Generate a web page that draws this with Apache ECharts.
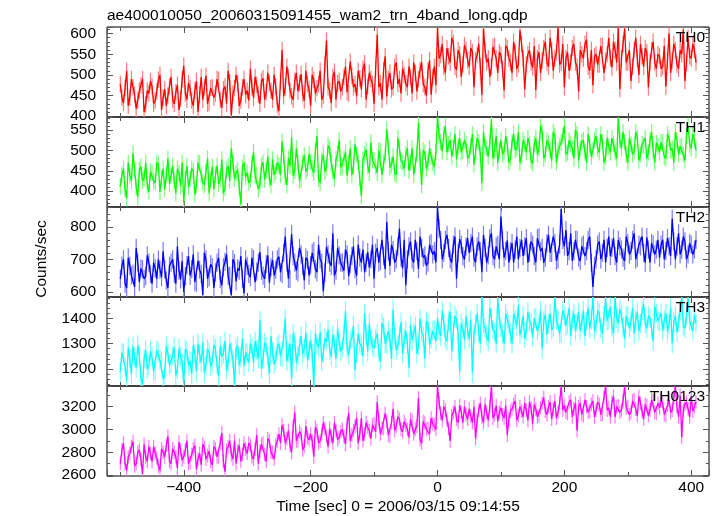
<!DOCTYPE html>
<html><head><meta charset="utf-8">
<script src="https://cdn.jsdelivr.net/npm/echarts@6/dist/echarts.min.js"></script>
<style>html,body{margin:0;padding:0;background:#fff}#c{width:717px;height:516px}</style>
</head><body><div id="c"></div>
<script>
const chartTitle = 'ae400010050_20060315091455_wam2_trn_4band_long.qdp';
const xTitle = 'Time [sec] 0 = 2006/03/15 09:14:55';
const yTitle = 'Counts/sec';
const bandNames = ['TH0', 'TH1', 'TH2', 'TH3', 'TH0123'];
// time bins: "a" arrays at t = -500, -495, ... ; "b" arrays at t = -497.5, -492.5, ...
const tStart = -500, tStep = 5;

const th0a = [
478,432,510,445,470,418,462,490,428,455,
472,438,488,415,465,450,495,430,476,442,
522,440,468,425,485,452,440,498,432,470,
455,488,420,472,510,402,468,480,438,490,
462,515,445,476,430,492,458,480,440,472,
412,560,470,495,448,485,460,502,438,478,
425,488,468,510,450,583,462,495,440,485,
470,520,455,498,478,510,465,528,472,490,
430,598,480,512,448,505,470,530,490,515,
480,520,455,505,490,530,470,510,452,520,
615,548,520,565,530,578,512,550,525,560,
520,555,535,575,452,560,540,520,570,505,
548,462,565,530,580,515,608,540,525,560,
518,463,555,535,580,520,560,540,615,530,
470,555,530,575,520,560,540,585,510,475,
550,525,570,535,590,518,560,615,540,612,
530,485,560,540,575,520,555,530,580,515,
545,520,472,600,535,560,515,550,485,590,
540,560];
const th0b = [
445,468,425,490,452,438,475,410,462,485,
430,460,500,445,425,472,440,458,415,490,
455,480,438,462,410,495,470,430,468,445,
490,440,465,430,482,455,500,425,470,452,
438,470,495,452,485,440,505,462,500,428,
485,448,520,462,440,505,480,455,510,466,
500,455,478,440,525,470,432,508,480,460,
495,458,532,470,448,492,515,440,505,478,
515,470,440,545,490,465,520,478,455,500,
470,495,530,460,512,478,450,535,495,475,
540,575,505,545,590,520,560,495,572,535,
565,470,548,520,612,530,495,568,540,555,
515,570,540,505,555,525,575,465,550,530,
570,540,505,565,530,590,510,555,525,575,
540,510,565,530,460,550,575,520,560,545,
525,570,505,550,540,580,530,465,575,530,
560,520,590,500,545,565,470,560,530,550,
515,570,535,505,575,525,560,610,530,545,
575,530];

const th1a = [
412,455,383,440,493,410,452,425,470,398,
445,420,465,432,405,480,438,425,455,412,
372,462,430,450,415,468,422,448,395,460,
440,418,478,408,462,505,430,452,368,470,
445,428,495,440,415,470,452,430,478,448,
462,522,435,480,532,450,470,428,488,455,
472,445,535,420,490,460,505,448,478,525,
460,495,470,440,515,472,388,490,462,520,
475,445,498,470,552,458,485,440,505,470,
490,450,505,465,568,415,495,470,485,460,
582,520,540,495,525,505,478,530,498,515,
488,540,495,520,420,510,485,575,500,470,
525,498,515,480,540,505,470,525,495,515,
468,530,505,545,490,518,475,535,500,520,
560,495,515,480,540,505,525,470,515,500,
535,495,520,485,510,530,495,580,505,520,
470,515,498,530,490,512,480,525,500,518,
495,520,480,530,505,545,490,510,475,560,
505,525];
const th1b = [
440,405,470,425,452,385,460,432,415,448,
425,470,398,455,440,418,462,395,445,470,
430,410,455,392,470,440,415,480,428,405,
462,430,395,452,425,470,445,410,458,435,
420,468,438,405,462,428,485,415,440,470,
440,485,415,462,438,505,425,470,448,490,
455,498,430,475,448,512,468,430,492,458,
480,438,505,460,490,430,478,502,445,475,
460,500,440,485,510,465,445,530,475,455,
505,470,440,492,478,500,455,505,470,495,
535,498,560,515,485,540,510,495,525,480,
510,465,530,490,545,505,520,480,535,500,
490,535,470,520,500,545,485,515,530,475,
515,490,560,480,525,500,545,470,510,535,
490,525,505,550,475,520,495,540,485,525,
505,540,470,530,495,515,480,525,545,490,
530,490,545,475,515,530,495,545,470,510,
520,485,540,500,470,525,510,490,535,515,
540,500];

const th2a = [
640,700,612,680,655,735,630,670,648,690,
625,672,700,645,668,612,690,655,740,638,
600,682,650,715,628,668,590,700,645,675,
660,705,620,692,648,590,688,672,710,595,
680,645,700,662,722,650,685,628,698,668,
708,655,770,640,778,690,660,715,635,698,
682,725,660,700,602,738,690,780,665,712,
690,730,648,710,670,745,690,660,722,700,
640,735,695,710,815,680,728,700,795,672,
620,740,700,760,670,735,712,690,750,725,
860,760,720,775,700,745,640,762,710,740,
720,770,690,755,660,735,712,780,700,745,
832,705,758,725,690,770,735,710,765,720,
745,690,768,735,705,775,720,750,700,855,
740,710,780,725,760,695,745,725,770,615,
700,755,720,690,770,735,710,760,730,695,
750,725,780,705,740,720,768,690,745,730,
705,760,725,740,825,700,780,730,755,715,
745,730];
const th2b = [
680,625,705,650,615,690,672,640,712,655,
690,640,668,725,635,680,700,625,665,695,
648,710,670,630,695,655,720,640,685,612,
690,640,675,715,650,700,632,665,640,700,
655,705,630,690,665,640,712,675,650,700,
660,720,690,640,710,665,735,680,705,650,
720,670,745,690,660,715,680,650,735,690,
665,715,685,740,650,705,730,690,675,745,
720,690,760,670,725,745,690,740,705,760,
700,755,690,725,770,705,680,745,715,690,
795,700,760,735,690,770,720,745,700,765,
750,705,740,725,775,690,765,710,740,700,
760,725,690,750,730,700,760,740,690,755,
710,765,725,690,750,720,770,695,745,760,
790,725,695,760,705,740,710,760,690,680,
745,700,760,735,710,765,690,740,705,770,
715,760,700,745,770,690,730,750,715,760,
745,700,765,710,755,740,715,770,700,750,
715,760];

const th3a = [
1190,1262,1155,1240,1290,1205,1250,1138,1275,1215,
1248,1195,1268,1230,1178,1262,1222,1285,1200,1250,
1145,1270,1232,1295,1190,1258,1305,1215,1265,1228,
1280,1172,1250,1310,1225,1270,1138,1292,1245,1212,
1262,1300,1225,1275,1392,1240,1288,1180,1268,1235,
1300,1248,1400,1265,1162,1310,1255,1330,1280,1235,
1315,1130,1298,1345,1262,1308,1275,1335,1240,1302,
1285,1430,1255,1320,1195,1340,1290,1420,1268,1318,
1282,1340,1230,1365,1295,1320,1435,1275,1330,1260,
1350,1205,1315,1370,1290,1345,1240,1380,1320,1355,
1400,1330,1380,1310,1425,1350,1395,1190,1360,1410,
1320,1185,1375,1340,1484,1360,1310,1400,1345,1480,
1362,1300,1395,1340,1420,1370,1335,1410,1350,1388,
1325,1405,1370,1280,1415,1380,1355,1480,1395,1340,
1410,1375,1330,1420,1385,1350,1430,1390,1360,1484,
1375,1420,1340,1480,1395,1365,1484,1380,1415,1320,
1410,1385,1340,1425,1380,1455,1360,1400,1310,1420,
1385,1350,1420,1375,1300,1410,1384,1484,1360,1480,
1390,1415];
const th3b = [
1265,1210,1285,1180,1245,1295,1168,1240,1200,1270,
1190,1275,1235,1160,1290,1215,1252,1175,1280,1225,
1278,1212,1180,1260,1300,1225,1185,1280,1210,1295,
1215,1290,1260,1195,1300,1240,1280,1215,1320,1265,
1225,1280,1310,1240,1200,1305,1250,1330,1220,1290,
1250,1320,1230,1300,1340,1225,1290,1260,1345,1270,
1260,1340,1285,1230,1320,1355,1250,1300,1360,1270,
1340,1280,1310,1370,1265,1300,1250,1335,1380,1290,
1320,1265,1380,1300,1350,1240,1330,1295,1385,1320,
1300,1375,1340,1260,1400,1330,1390,1295,1350,1310,
1350,1430,1320,1390,1270,1410,1340,1380,1315,1350,
1395,1340,1420,1300,1380,1330,1440,1355,1300,1395,
1340,1420,1375,1300,1395,1450,1360,1320,1425,1380,
1400,1350,1430,1390,1335,1420,1365,1395,1340,1430,
1370,1440,1395,1350,1425,1380,1330,1440,1395,1350,
1430,1360,1410,1390,1445,1340,1400,1435,1365,1410,
1360,1440,1395,1350,1430,1380,1410,1360,1445,1390,
1420,1395,1350,1440,1385,1345,1430,1370,1410,1390,
1350,1380];

const th0123a = [
2700,2880,2640,2790,2895,2700,2820,2610,2760,2850,
2720,2790,2680,2830,2760,2940,2700,2800,2660,2820,
2760,2900,2710,2830,2650,2790,2870,2740,2810,2690,
2830,2760,2970,2630,2850,2780,2900,2810,2720,2880,
2790,2860,2740,2950,2810,2880,2720,2900,2800,2860,
2960,3040,2880,2990,2800,3150,2900,2960,2850,2930,
2960,2760,2990,2900,3060,2940,3010,2880,2990,2930,
3000,2870,3145,2950,3030,2880,3100,2960,3020,2920,
3050,3240,2960,3010,3070,2940,3180,3030,3090,2980,
3040,2930,3080,3000,3275,2880,3060,3010,3100,3040,
3380,3140,3200,3080,2900,3150,3090,3210,3060,3130,
3180,3060,2920,3170,3110,3220,3080,3380,3130,3070,
3190,3100,2950,3160,3220,3080,3200,3110,3170,3240,
3050,3180,3120,3230,3160,3200,3090,3250,3150,3380,
3210,3140,3260,3180,2990,3230,3120,3200,3160,3250,
3170,3220,3130,3380,3190,3240,3110,3210,3170,3380,
3200,3150,3260,3120,3230,3090,3210,3170,3250,3140,
3190,3230,3120,3260,3170,3380,3110,2930,3220,3180,
3290,3200];
const th0123b = [
2820,2700,2760,2850,2680,2800,2740,2870,2720,2790,
2850,2750,2640,2800,2860,2720,2830,2760,2890,2730,
2820,2700,2780,2860,2740,2690,2840,2770,2720,2850,
2760,2880,2720,2820,2900,2740,2700,2860,2780,2830,
2880,2760,2830,2700,2870,2780,2920,2800,2740,2900,
2880,2990,2920,2860,3020,2900,2980,2820,3030,2910,
2900,3020,2880,2960,3010,2850,2940,3060,2910,2980,
2940,3050,2900,2990,3100,2960,2900,3060,2990,3040,
2980,3080,3010,3140,2950,3060,2990,3110,3000,3070,
3000,3090,2960,3030,2910,3070,3000,2960,3050,3000,
3240,3080,3170,3010,3120,3200,3060,3150,3200,3090,
3120,3200,3080,3230,3060,3150,3200,3100,3210,3150,
3130,3210,3090,3180,3250,3120,3160,3230,3080,3190,
3220,3110,3190,3280,3130,3240,3180,3100,3230,3170,
3150,3240,3110,3230,3200,3130,3260,3150,3220,3110,
3240,3130,3280,3170,3110,3290,3200,3150,3250,3190,
3130,3250,3180,3290,3160,3220,3120,3260,3150,3230,
3250,3130,3210,3150,3280,3200,3300,3170,3240,3110,
3160,3240];

// typical 1-sigma error bar of each band (counts/sec)
const errBars = [20, 20, 28, 38, 60];

const yMins = [398, 361, 584, 1133, 2592];
const yMaxs = [616, 582, 861, 1484, 3381];
const xMin = -521, xMax = 428;

const allA = [th0a, th1a, th2a, th3a, th0123a];
const allB = [th0b, th1b, th2b, th3b, th0123b];
const colors = ['#ff0000', '#00ff00', '#0000ff', '#00ffff', '#ff00ff'];
const lightColors = ['#ff7a7a', '#7aff7a', '#7a7aff', '#7affff', '#ff7aff'];
const ySplit = [4, 4, 3, 3, 4];
const yMinorSplit = [5, 5, 5, 5, 2];
const tops = [27, 117, 207, 297, 386];
const heights = [90, 90, 90, 89, 90];
const FONT = '"Liberation Sans", Arial, Helvetica, sans-serif';
const FS = 15.5;
const tickColor = '#555';

const grid = [], xAxis = [], yAxis = [], series = [], graphic = [];
for (let i = 0; i < 5; i++) {
  grid.push({left: 107, right: 8, top: tops[i], height: heights[i], show: true,
    borderColor: '#000', borderWidth: 1, backgroundColor: 'transparent'});
  const last = i === 4;
  ['bottom', 'top'].forEach(pos => {
    xAxis.push({type: 'value', gridIndex: i, position: pos, min: xMin, max: xMax, splitNumber: 5,
      axisLine: {show: false, onZero: false}, splitLine: {show: false},
      axisTick: {show: true, inside: true, length: 6, lineStyle: {color: tickColor}},
      minorTick: {show: true, splitNumber: 2, length: 4, lineStyle: {color: tickColor}},
      axisLabel: {show: last && pos === 'bottom', margin: 4, fontSize: FS, fontFamily: FONT, color: '#000',
        showMinLabel: false, showMaxLabel: false,
        formatter: v => String(v).replace('-', '\u2212')}
    });
  });
  ['left', 'right'].forEach(pos => {
    yAxis.push({type: 'value', gridIndex: i, position: pos, min: yMins[i], max: yMaxs[i], splitNumber: ySplit[i],
      axisLine: {show: false, onZero: false}, splitLine: {show: false},
      axisTick: {show: true, inside: true, length: 6, lineStyle: {color: tickColor}},
      minorTick: {show: true, splitNumber: yMinorSplit[i], length: 3, lineStyle: {color: tickColor}},
      axisLabel: {show: pos === 'left', margin: 11, fontSize: FS, fontFamily: FONT, color: '#000',
        showMinLabel: false, showMaxLabel: false, formatter: v => String(v)}
    });
  });
  const pts = [];
  allA[i].forEach((v, k) => {
    pts.push([tStart + k * tStep, v]);
    if (k < allB[i].length) pts.push([tStart + k * tStep + tStep / 2, allB[i][k]]);
  });
  const err = errBars[i];
  const lc = lightColors[i];
  series.push({type: 'custom', xAxisIndex: 2 * i, yAxisIndex: 2 * i, clip: true, silent: true, z: 1,
    animation: false, data: pts, encode: {x: 0, y: 1},
    renderItem: (params, api) => {
      const t = api.value(0), v = api.value(1);
      const p1 = api.coord([t, v - err]), p2 = api.coord([t, v + err]);
      return {type: 'line', shape: {x1: p1[0], y1: p1[1], x2: p2[0], y2: p2[1]},
        style: {stroke: lc, lineWidth: 1.2}};
    }});
  series.push({type: 'line', xAxisIndex: 2 * i, yAxisIndex: 2 * i, data: pts, symbol: 'none', showSymbol: false,
    clip: true, z: 2, animation: false, silent: true,
    lineStyle: {color: colors[i], width: 1.3}, itemStyle: {color: colors[i]}});
  graphic.push({type: 'text', x: 705, y: tops[i] + 10.3, z: 100,
    style: {text: bandNames[i], fill: '#000', font: FS + 'px ' + FONT, align: 'right', verticalAlign: 'middle'}});
}
graphic.push({type: 'text', x: 107, y: 15.7, z: 100,
  style: {text: chartTitle, fill: '#000', font: FS + 'px ' + FONT, align: 'left', verticalAlign: 'middle'}});
graphic.push({type: 'text', x: 398, y: 507, z: 100,
  style: {text: xTitle, fill: '#000', font: FS + 'px ' + FONT, align: 'center', verticalAlign: 'middle'}});
graphic.push({type: 'text', x: 42, y: 259, rotation: Math.PI / 2, z: 100,
  style: {text: yTitle, fill: '#000', font: FS + 'px ' + FONT, align: 'center', verticalAlign: 'middle'}});

const chart = echarts.init(document.getElementById('c'), null, {renderer: 'canvas'});
chart.setOption({backgroundColor: '#fff', animation: false, grid, xAxis, yAxis, series, graphic});
</script></body></html>
